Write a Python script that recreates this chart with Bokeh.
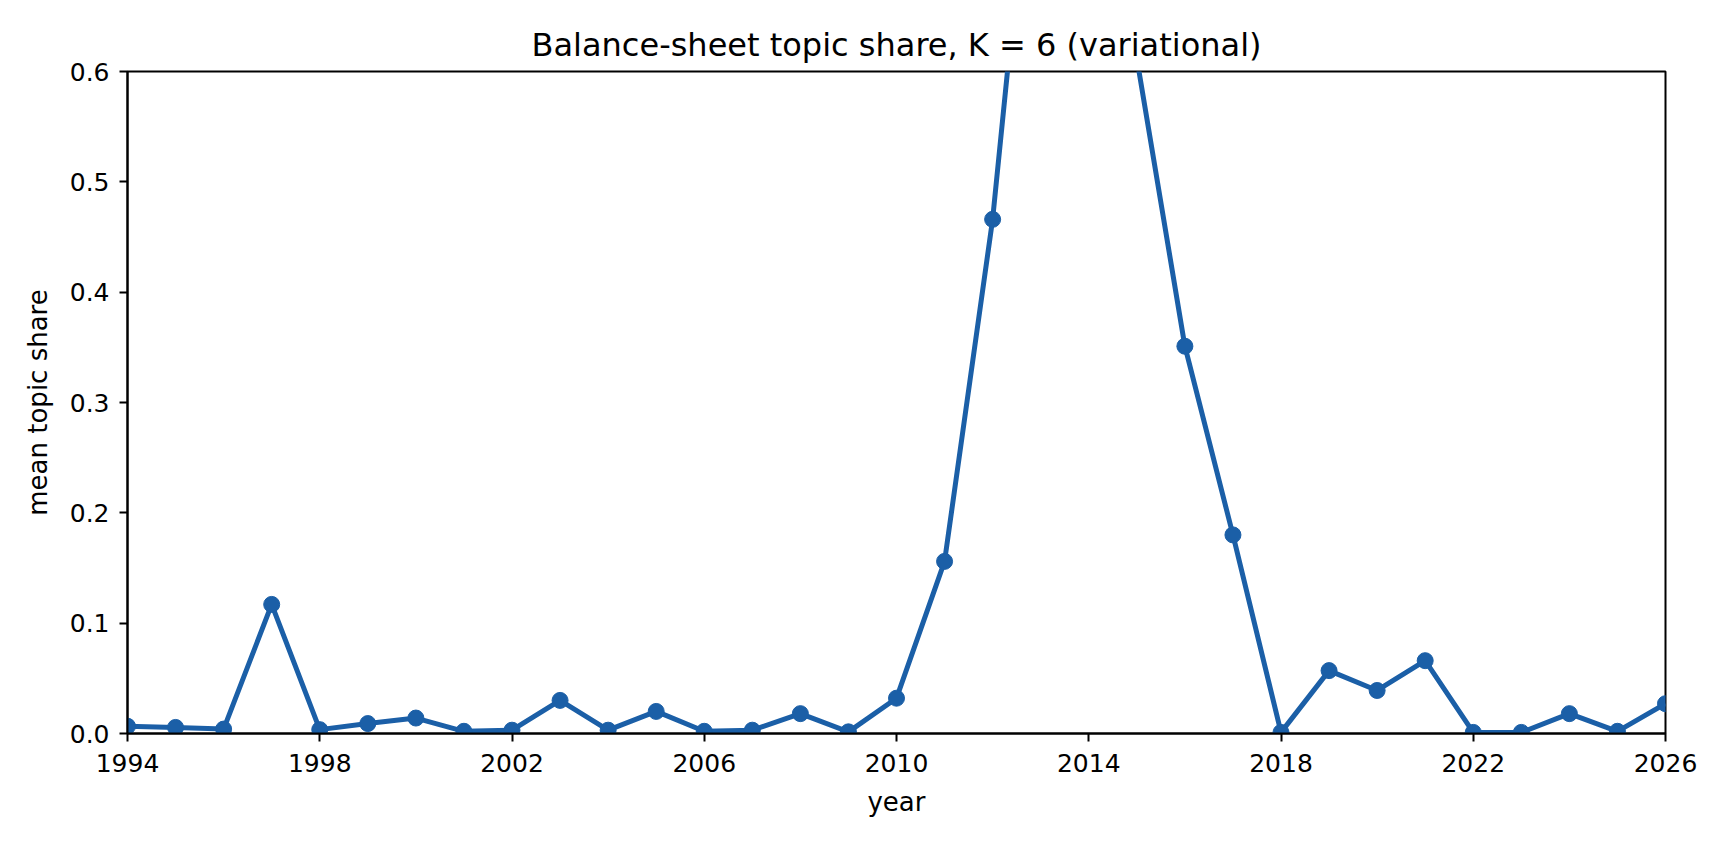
from bokeh.plotting import figure
from bokeh.models import Range1d, FixedTicker, PrintfTickFormatter
from bokeh.embed import file_html
from bokeh.resources import INLINE

years = list(range(1994, 2027))
share = [0.0066, 0.0055, 0.004, 0.117, 0.0035, 0.009, 0.014, 0.002, 0.003, 0.030,
         0.003, 0.020, 0.002, 0.003, 0.018, 0.0015, 0.032, 0.156, 0.466, 0.90,
         0.82, 0.612, 0.351, 0.180, 0.001, 0.057, 0.039, 0.066, 0.001, 0.001,
         0.018, 0.002, 0.027]
x_ticks = [1994, 1998, 2002, 2006, 2010, 2014, 2018, 2022, 2026]
y_ticks = [0.0, 0.1, 0.2, 0.3, 0.4, 0.5, 0.6]

TITLE = "Balance-sheet topic share, K = 6 (variational)"
FONT = "DejaVu Sans"
COLOR = "#1b5fa7"

p = figure(width=1712, height=828, output_backend="svg", toolbar_location=None,
           x_range=Range1d(1994, 2026), y_range=Range1d(0, 0.6),
           min_border_left=127, min_border_right=47, min_border_top=71,
           min_border_bottom=95, title=TITLE)

p.title.align = "center"
p.title.text_font = FONT
p.title.text_font_size = "32px"
p.title.text_font_style = "normal"
p.title.text_color = "black"
p.title.standoff = 15

p.line(years, share, line_color=COLOR, line_width=5)
p.scatter(years, share, size=16, fill_color=COLOR, line_color=COLOR)

p.xgrid.visible = False
p.ygrid.visible = False
p.outline_line_color = "black"
p.outline_line_width = 2
p.background_fill_color = "white"
p.border_fill_color = "white"

for ax in (p.xaxis[0], p.yaxis[0]):
    ax.axis_line_color = "black"
    ax.axis_line_width = 2
    ax.major_tick_line_color = "black"
    ax.major_tick_line_width = 2
    ax.major_tick_out = 8
    ax.major_tick_in = 0
    ax.minor_tick_line_color = None
    ax.major_label_text_font = FONT
    ax.major_label_text_font_size = "25px"
    ax.major_label_text_color = "black"
    ax.axis_label_text_font = FONT
    ax.axis_label_text_font_size = "26px"
    ax.axis_label_text_font_style = "normal"
    ax.axis_label_text_color = "black"

p.xaxis.ticker = FixedTicker(ticks=x_ticks)
p.yaxis.ticker = FixedTicker(ticks=y_ticks)
p.yaxis.formatter = PrintfTickFormatter(format="%.1f")
p.xaxis.axis_label = "year"
p.yaxis.axis_label = "mean topic share"
p.xaxis.major_label_standoff = 12
p.yaxis.major_label_standoff = 10
p.xaxis.axis_label_standoff = 12
p.yaxis.axis_label_standoff = 14

open("out.html", "w").write(file_html(p, INLINE))
